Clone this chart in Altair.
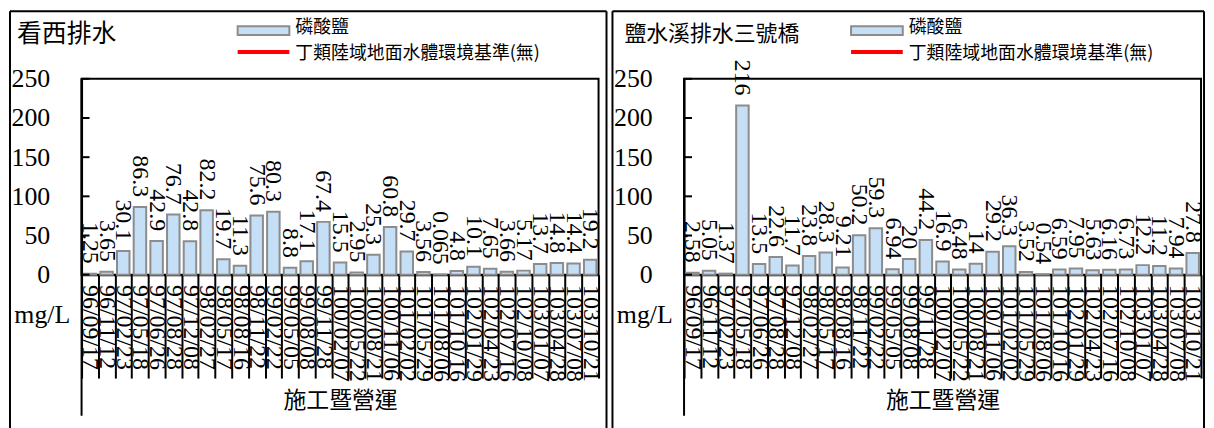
import altair as alt
import pandas as pd

# ---------------- data ----------------
dates = ["96/09/17", "96/11/12", "97/02/23", "97/05/18", "97/06/26", "97/08/28",
         "97/12/08", "98/02/27", "98/05/17", "98/08/16", "98/11/22", "99/02/22",
         "99/05/05", "99/08/08", "99/11/28", "100/02/07", "100/05/22", "100/08/21",
         "100/11/06", "101/02/02", "101/05/29", "101/08/06", "101/10/16", "102/01/29",
         "102/04/23", "102/07/16", "102/10/08", "103/01/07", "103/04/28", "103/07/08",
         "103/10/21"]

left_values = [1.25, 3.65, 30.1, 86.3, 42.9, 76.7, 42.8, 82.2, 19.7, 11.3, 75.6,
               80.3, 8.8, 17.1, 67.4, 15.5, 2.95, 25.3, 60.8, 29.7, 3.56, 0.065,
               4.8, 10.1, 7.65, 3.66, 5.17, 13.7, 14.8, 14.4, 19.2]

right_values = [2.58, 5.05, 1.37, 216, 13.5, 22.6, 11.7, 23.8, 28.3, 9.21, 50.2,
                59.3, 6.94, 20, 44.2, 16.9, 6.48, 14, 29.2, 36.3, 3.52, 0.54,
                6.59, 7.95, 5.63, 6.16, 6.73, 12.2, 11.2, 7.94, 27.8]

left_title = "看西排水"
right_title = "鹽水溪排水三號橋"
series_name = "磷酸鹽"
standard_name = "丁類陸域地面水體環境基準(無)"
x_title = "施工暨營運"
y_title = "mg/L"
y_tick_values = [0, 50, 100, 150, 200, 250]

# ---------------- style ----------------
W, H = 520, 197
SERIF = "'Liberation Serif', 'Times New Roman', Times, serif"
CJK = "'Noto Sans CJK TC', sans-serif"
BAR_FILL = "#c4dff6"
BAR_STROKE = "#8c8c8c"


def txt(s):
    return pd.DataFrame({"t": [s]})


def make_axes():
    x_axis = alt.Axis(
        title=x_title, titleFont=CJK, titleFontSize=23, titleFontWeight="normal",
        titleColor="black", titleY=127, titleBaseline="middle",
        labelAngle=90, labelAlign="left", labelBaseline="middle",
        labelFont=SERIF, labelFontSize=24, labelColor="black",
        labelPadding=-94, labelOverlap=False,
        tickBand="extent", tickSize=104, tickColor="black", tickWidth=2,
        domainColor="black", domainWidth=2, grid=False)
    y_axis = alt.Axis(
        values=y_tick_values, title=y_title, titleAngle=0, titleX=-40, titleY=237,
        titleAlign="center", titleBaseline="middle", titleFont=SERIF,
        titleFontSize=26, titleFontWeight="normal", titleColor="black",
        labelFont=SERIF, labelFontSize=26, labelColor="black", labelPadding=32,
        labelOverlap=False, labelFlush=False,
        ticks=False, domainColor="black", domainWidth=2, grid=False)
    return x_axis, y_axis


def panel(title, values, title_x, title_size, legend_x, right_edge):
    df = pd.DataFrame({"date": dates, "v": values,
                       "lab": [f"{v:g}" for v in values]})
    xs = alt.Scale(paddingInner=0, paddingOuter=0)
    ys = alt.Scale(domain=[0, 250], nice=False, zero=True)
    x_axis, y_axis = make_axes()

    X = alt.X("date:N", sort=dates, scale=xs, axis=x_axis)
    Y = alt.Y("v:Q", scale=ys, axis=y_axis)

    bars = alt.Chart(df).mark_bar(
        fill=BAR_FILL, stroke=BAR_STROKE, strokeWidth=2,
        width=alt.RelativeBandSize(0.75)
    ).encode(x=X, y=Y)

    labels = alt.Chart(df).mark_text(
        angle=90, align="right", baseline="middle", dx=-10,
        font=SERIF, fontSize=24, color="black"
    ).encode(x=X, y=Y, text="lab:N")

    inner_ticks = alt.Chart(pd.DataFrame({"v": y_tick_values})).mark_rule(
        color="black", strokeWidth=2
    ).encode(y=Y, x=alt.value(0), x2=alt.value(8))

    long_axis = alt.Chart(txt("")).mark_rule(color="black", strokeWidth=2).encode(
        x=alt.value(0), y=alt.value(0), y2=alt.value(339))

    border_l = alt.Chart(txt("")).mark_rule(color="black", strokeWidth=2).encode(
        x=alt.value(-72), y=alt.value(-68), y2=alt.value(352))
    border_t = alt.Chart(txt("")).mark_rule(color="black", strokeWidth=2).encode(
        x=alt.value(-72), x2=alt.value(right_edge), y=alt.value(-68))
    border_r = alt.Chart(txt("")).mark_rule(color="black", strokeWidth=2).encode(
        x=alt.value(right_edge), y=alt.value(-68), y2=alt.value(352))

    title_mark = alt.Chart(txt(title)).mark_text(
        align="left", baseline="middle", font=CJK, fontSize=title_size, color="black"
    ).encode(x=alt.value(title_x), y=alt.value(-45), text="t:N")

    swatch = alt.Chart(txt("")).mark_rect(
        fill=BAR_FILL, stroke=BAR_STROKE, strokeWidth=2
    ).encode(x=alt.value(legend_x), x2=alt.value(legend_x + 52),
             y=alt.value(-53), y2=alt.value(-44))
    swatch_text = alt.Chart(txt(series_name)).mark_text(
        align="left", baseline="middle", font=CJK, fontSize=18, color="black"
    ).encode(x=alt.value(legend_x + 58), y=alt.value(-51), text="t:N")
    red_line = alt.Chart(txt("")).mark_rule(color="#ff0000", strokeWidth=4).encode(
        x=alt.value(legend_x), x2=alt.value(legend_x + 52), y=alt.value(-27))
    red_text = alt.Chart(txt(standard_name)).mark_text(
        align="left", baseline="middle", font=CJK, fontSize=18, color="black"
    ).encode(x=alt.value(legend_x + 58), y=alt.value(-25), text="t:N")

    return alt.layer(
        bars, labels, inner_ticks, long_axis, border_l, border_t, border_r,
        title_mark, swatch, swatch_text, red_line, red_text
    ).properties(width=W, height=H)


left = panel(left_title, left_values, -65, 25, 157, 528)
right = panel(right_title, right_values, -60, 22, 168, 523)

chart = alt.hconcat(left, right, spacing=2).properties(
    padding=0, background="white"
).configure_view(stroke="black", strokeWidth=2)

chart.save("out.html", embed_options={"renderer": "svg", "actions": False})
